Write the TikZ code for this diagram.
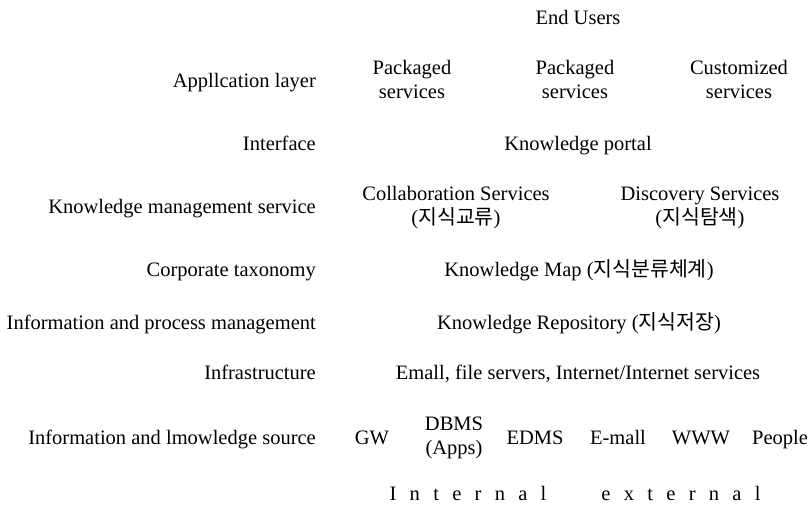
\documentclass[tikz,border=0pt]{standalone}
\usepackage{fontspec}
\setmainfont{Liberation Serif}
\newfontfamily\kr{Noto Sans CJK KR}
\begin{document}
\begin{tikzpicture}[x=1pt,y=-1pt,
  every node/.style={inner sep=0pt,font=\fontsize{20.5}{24}\selectfont},
  layer/.style={anchor=east,text height=16pt,text depth=0pt},
  item/.style={anchor=center,text height=16pt,text depth=0pt},
  pair/.style={anchor=center,align=center}]
\useasboundingbox (0,0) rectangle (810,505);

% layer names, right aligned
\node[layer] (lapp)  at (316,80)  {Appllcation layer};
\node[layer] (lint)  at (316,142) {Interface};
\node[layer] (lkms)  at (316,205) {Knowledge management service};
\node[layer] (ltax)  at (316,268) {Corporate taxonomy};
\node[layer] (lipm)  at (316,321) {Information and process management};
\node[layer] (linf)  at (316,371) {Infrastructure};
\node[layer] (lsrc)  at (316,436) {Information and lmowledge source};

% contents of each layer
\node[item] (users)  at (578,17)  {End Users};
\node[pair] (pkg1)   at (412,79)  {Packaged\\services};
\node[pair] (pkg2)   at (575,79)  {Packaged\\services};
\node[pair] (cust)   at (739,79)  {Customized\\services};
\node[item] (portal) at (578,142) {Knowledge portal};
\node[pair] (collab) at (456,208) {Collaboration Services\\({\kr 지식교류})};
\node[pair] (disc)   at (700,208) {Discovery Services\\({\kr 지식탐색})};
\node[item] (kmap)   at (579,268) {Knowledge Map ({\kr 지식분류체계})};
\node[item] (krep)   at (579,321) {Knowledge Repository ({\kr 지식저장})};
\node[item] (infra)  at (578,371) {Emall, file servers, Internet/Internet services};

% information sources
\node[item] (gw)     at (372,436) {GW};
\node[pair] (dbms)   at (454,438) {DBMS\\(Apps)};
\node[item] (edms)   at (535,436) {EDMS};
\node[item] (mail)   at (618,436) {E-mall};
\node[item] (www)    at (701,436) {WWW};
\node[item] (people) at (780,436) {People};

% source grouping
\node[item] (internal) at (468,492) {\spaceskip=13.3pt I n t e r n a l};
\node[item] (external) at (681,492) {\spaceskip=13.3pt e x t e r n a l};
\end{tikzpicture}
\end{document}
